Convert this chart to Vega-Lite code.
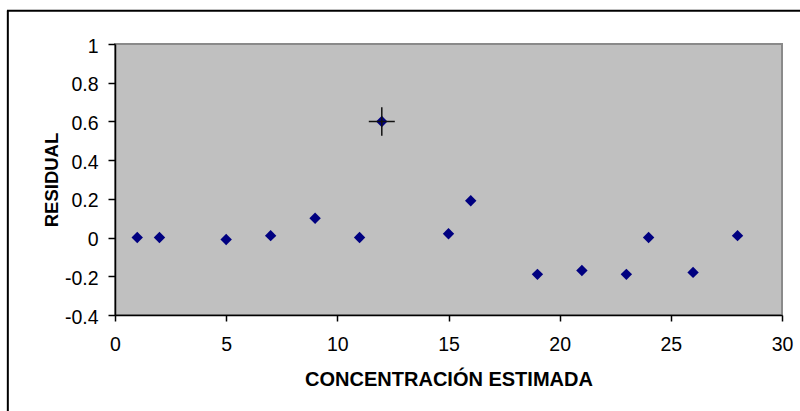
{
  "$schema": "https://vega.github.io/schema/vega-lite/v6.json",
  "width": 667,
  "height": 271,
  "autosize": {"type": "none"},
  "padding": {"left": 115, "top": 44, "right": 18, "bottom": 96},
  "background": "white",
  "config": {
    "font": "Liberation Sans",
    "view": {"fill": "#c0c0c0", "stroke": "#8a8a8a", "strokeWidth": 2},
    "axis": {
      "grid": false,
      "labelFlush": false,
      "domainColor": "black",
      "domainWidth": 1.5,
      "tickColor": "black",
      "tickWidth": 1.5,
      "labelFont": "Liberation Sans",
      "labelFontSize": 19.5,
      "labelColor": "black",
      "titleFont": "Liberation Sans",
      "titleFontWeight": "bold",
      "titleColor": "black"
    }
  },
  "data": {
    "values": [
      {"concentracion": 1, "residual": 0, "marcado": false},
      {"concentracion": 2, "residual": 0, "marcado": false},
      {"concentracion": 5, "residual": -0.01, "marcado": false},
      {"concentracion": 7, "residual": 0.01, "marcado": false},
      {"concentracion": 9, "residual": 0.1, "marcado": false},
      {"concentracion": 11, "residual": 0, "marcado": false},
      {"concentracion": 12, "residual": 0.6, "marcado": true},
      {"concentracion": 15, "residual": 0.02, "marcado": false},
      {"concentracion": 16, "residual": 0.19, "marcado": false},
      {"concentracion": 19, "residual": -0.19, "marcado": false},
      {"concentracion": 21, "residual": -0.17, "marcado": false},
      {"concentracion": 23, "residual": -0.19, "marcado": false},
      {"concentracion": 24, "residual": 0, "marcado": false},
      {"concentracion": 26, "residual": -0.18, "marcado": false},
      {"concentracion": 28, "residual": 0.01, "marcado": false}
    ]
  },
  "encoding": {
    "x": {
      "field": "concentracion",
      "type": "quantitative",
      "scale": {"domain": [0, 30], "nice": false, "zero": false},
      "axis": {
        "title": "CONCENTRACIÓN ESTIMADA",
        "titleFontSize": 20,
        "values": [0, 5, 10, 15, 20, 25, 30],
        "tickSize": 6,
        "labelPadding": 14,
        "titlePadding": 16
      }
    },
    "y": {
      "field": "residual",
      "type": "quantitative",
      "scale": {"domain": [-0.4, 1], "nice": false, "zero": false},
      "axis": {
        "title": "RESIDUAL",
        "titleFontSize": 18.5,
        "values": [-0.4, -0.2, 0, 0.2, 0.4, 0.6, 0.8, 1],
        "labelExpr": "toString(round(datum.value * 10) / 10)",
        "tickSize": 7,
        "labelPadding": 10,
        "labelOffset": 2,
        "titlePadding": 3
      }
    }
  },
  "layer": [
    {
      "transform": [{"filter": "datum.marcado"}],
      "mark": {"type": "rule", "color": "black", "strokeWidth": 2, "clip": false},
      "encoding": {
        "x": {"datum": -4.82, "type": "quantitative"},
        "y": {"datum": 1.172, "type": "quantitative"},
        "y2": {"datum": -1}
      }
    },
    {
      "transform": [{"filter": "datum.marcado"}],
      "mark": {"type": "rule", "color": "black", "strokeWidth": 2, "clip": false},
      "encoding": {
        "x": {"datum": -4.86, "type": "quantitative"},
        "x2": {"datum": 40},
        "y": {"datum": 1.172, "type": "quantitative"}
      }
    },
    {
      "mark": {"type": "point", "shape": "diamond", "filled": true, "size": 130, "color": "#000080", "opacity": 1}
    },
    {
      "transform": [{"filter": "datum.marcado"}],
      "mark": {
        "type": "point",
        "shape": "M-1,0H1M0,-1.1V1.1",
        "filled": false,
        "size": 676,
        "stroke": "#111111",
        "strokeWidth": 1.5,
        "opacity": 1
      }
    }
  ]
}
